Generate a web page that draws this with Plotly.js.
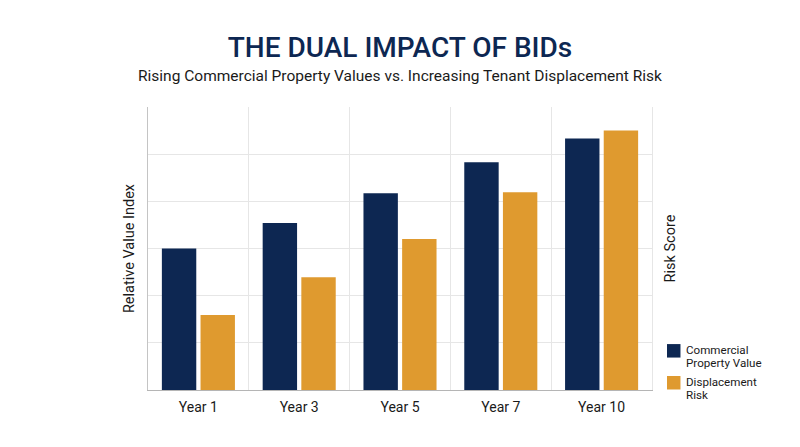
<!DOCTYPE html>
<html><head><meta charset="utf-8">
<script src="https://cdn.plot.ly/plotly-3.0.1.min.js"></script>
<style>html,body{margin:0;padding:0;background:#fff}</style></head>
<body><div id="chart" style="width:800px;height:447px"></div>
<script>
const categories = ["Year 1","Year 3","Year 5","Year 7","Year 10"];
const propertyValues = [30, 35.4, 41.7, 48.3, 53.3];
const displacementRisk = [15.9, 23.9, 32, 41.9, 55];
const gridTicks = [0,10,20,30,40,50,60];
const seriesNames = ["Commercial Property Value","Displacement Risk"];
const legendLines = [["Commercial","Property Value"],["Displacement","Risk"]];
const seriesColors = ["#0d2752","#df9a2f"];
const font = "Roboto, Inter, sans-serif";
const textColor = "#1a1a1a";

// pixel-to-paper helpers for the hand-placed legend and subtitle
const L=147.5, R=652, T=106.5, B=390;
const px = v => (v-L)/(R-L);
const py = v => (B-v)/(B-T);

const data = [
 {type:"bar",x:categories,y:propertyValues,name:seriesNames[0],marker:{color:seriesColors[0]},offsetgroup:"a",yaxis:"y"},
 {type:"bar",x:categories,y:displacementRisk,name:seriesNames[1],marker:{color:seriesColors[1]},offsetgroup:"b",yaxis:"y2"}
];
const legendTop = [344,376];
const shapes = legendTop.map((t,i)=>({type:"rect",xref:"paper",yref:"paper",x0:px(667),x1:px(680.5),y0:py(t),y1:py(t+13.5),fillcolor:seriesColors[i],line:{width:0}}));
const annotations = [{text:"Rising Commercial Property Values vs. Increasing Tenant Displacement Risk",xref:"paper",yref:"paper",x:0.5,y:py(75.5),xanchor:"center",yanchor:"middle",showarrow:false,font:{family:font,size:15.5,color:textColor}}];
legendLines.forEach((lines,i)=>lines.forEach((line,j)=>annotations.push({text:line,xref:"paper",yref:"paper",x:px(684),y:py(legendTop[i]+6+j*13),xanchor:"left",yanchor:"middle",showarrow:false,font:{family:font,size:11.6,color:textColor}})));
const layout = {
 width:800,height:447,paper_bgcolor:"#fff",plot_bgcolor:"#fff",
 margin:{l:147.5,r:148,t:106.5,b:57},
 barmode:"group",bargap:0.233,bargroupgap:0.11,
 font:{family:font,color:textColor,size:13},
 title:{text:"THE DUAL IMPACT OF BIDs",font:{family:font,size:28,weight:500,color:seriesColors[0]},x:0.5,xanchor:"center",y:0.895,yanchor:"middle"},
 annotations, shapes,
 xaxis:{type:"category",tickson:"boundaries",ticks:"",showgrid:true,gridcolor:"#e6e6e6",gridwidth:1,showline:true,linecolor:"#b5b5b5",linewidth:1,tickfont:{size:14,color:textColor},ticklabelstandoff:4,zeroline:false},
 yaxis:{range:[0,60],tickmode:"array",tickvals:gridTicks,showticklabels:false,ticks:"",showgrid:true,gridcolor:"#e6e6e6",showline:true,linecolor:"#c4c4c4",zeroline:false,
   title:{text:"Relative Value Index",font:{size:14.5,color:textColor},standoff:8}},
 yaxis2:{range:[0,60],overlaying:"y",side:"right",showticklabels:false,ticks:"",showgrid:false,showline:true,linecolor:"#e6e6e6",zeroline:false,
   title:{text:"Risk Score",font:{size:14.5,color:textColor},standoff:12}},
 showlegend:false
};
Plotly.newPlot("chart",data,layout,{displayModeBar:false,staticPlot:true});
</script></body></html>
